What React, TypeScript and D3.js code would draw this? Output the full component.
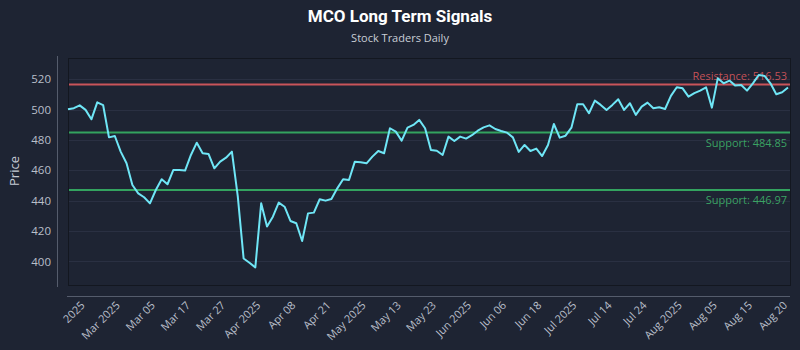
import { useEffect, useRef } from "react";
import * as d3 from "d3";

// closing prices, one per session
const PRICES = [
  500.2, 500.9, 502.8, 499.8, 493.6, 504.8, 503.0, 481.7, 482.6, 472.3,
  464.6, 450.3, 444.8, 442.2, 438.2, 447.0, 454.1, 450.8, 460.2, 460.2,
  459.8, 470.1, 478.2, 471.2, 470.8, 461.3, 465.7, 468.3, 472.3, 443.0,
  401.9, 399.1, 396.0, 438.2, 422.9, 429.4, 438.7, 436.0, 426.6, 425.1,
  413.4, 431.6, 432.1, 440.9, 440.0, 441.1, 448.1, 454.1, 453.6, 465.7,
  465.3, 464.6, 469.0, 472.7, 471.2, 487.7, 485.5, 479.5, 488.1, 489.9,
  493.2, 487.7, 473.4, 472.9, 470.1, 482.2, 479.3, 482.2, 480.9, 483.1,
  486.1, 488.3, 489.6, 487.2, 485.9, 484.8, 481.7, 472.1, 476.7, 472.7,
  474.3, 469.4, 476.7, 490.5, 481.5, 482.8, 488.1, 503.5, 503.5, 497.6,
  505.9, 503.1, 499.8, 503.1, 506.8, 499.8, 504.2, 496.5, 502.0, 504.6,
  500.9, 501.5, 500.4, 509.0, 514.7, 514.0, 508.5, 510.8, 512.5, 514.7,
  501.3, 520.6, 517.3, 519.1, 515.8, 516.2, 512.5, 517.3, 522.8, 522.2,
  517.3, 510.1, 511.4, 514.5,
];

const TICK_LABELS = [
  "2025", "Mar 2025", "Mar 05", "Mar 17", "Mar 27", "Apr 2025", "Apr 08",
  "Apr 21", "May 2025", "May 13", "May 23", "Jun 2025", "Jun 06", "Jun 18",
  "Jul 2025", "Jul 14", "Jul 24", "Aug 2025", "Aug 05", "Aug 15", "Aug 20",
];

const Y_TICKS = [400, 420, 440, 460, 480, 500, 520];

const RESISTANCE = [516.53];
const SUPPORTS = [484.85, 446.97];

const BG = "#1e2433";
const FONT = "'Open Sans', 'Noto Sans', sans-serif";

export default function App() {
  const ref = useRef<SVGSVGElement | null>(null);

  useEffect(() => {
    if (!ref.current) {
      return;
    }
    const svg = d3.select(ref.current);
    svg.selectAll("*").remove();

    const width = 800;
    const height = 350;
    const plot = { left: 68, right: 790, top: 58, bottom: 285 };

    const x = d3
      .scaleLinear()
      .domain([0, PRICES.length - 1])
      .range([plot.left, plot.right - 2]);

    const y = d3
      .scaleLinear()
      .domain([384.4, 534])
      .range([plot.bottom, plot.top]);

    svg.attr("viewBox", `0 0 ${width} ${height}`);

    svg
      .append("rect")
      .attr("width", width)
      .attr("height", height)
      .attr("fill", BG);

    // titles
    svg
      .append("text")
      .text("MCO Long Term Signals")
      .attr("x", width / 2)
      .attr("y", 22)
      .attr("text-anchor", "middle")
      .attr("font-family", "Roboto, sans-serif")
      .attr("font-weight", 700)
      .attr("font-size", 17)
      .attr("fill", "#ffffff");

    svg
      .append("text")
      .text("Stock Traders Daily")
      .attr("x", width / 2)
      .attr("y", 42)
      .attr("text-anchor", "middle")
      .attr("font-family", FONT)
      .attr("font-size", 11)
      .attr("fill", "#c9ced6");

    // axes frame
    svg
      .append("rect")
      .attr("x", plot.left + 0.5)
      .attr("y", plot.top + 0.5)
      .attr("width", plot.right - plot.left)
      .attr("height", plot.bottom - plot.top)
      .attr("fill", BG)
      .attr("stroke", "#131720")
      .attr("stroke-width", 1);

    // grid
    svg
      .append("g")
      .selectAll("line")
      .data(Y_TICKS)
      .enter()
      .append("line")
      .attr("x1", plot.left + 1)
      .attr("x2", plot.right)
      .attr("y1", (d) => Math.round(y(d)) + 0.5)
      .attr("y2", (d) => Math.round(y(d)) + 0.5)
      .attr("stroke", "#2a3042")
      .attr("stroke-width", 1);

    // offset spines
    svg
      .append("line")
      .attr("x1", 57.5)
      .attr("x2", 57.5)
      .attr("y1", 56)
      .attr("y2", 287)
      .attr("stroke", "#555c6c");

    svg
      .append("line")
      .attr("x1", 67)
      .attr("x2", 790)
      .attr("y1", 296.5)
      .attr("y2", 296.5)
      .attr("stroke", "#555c6c");

    svg
      .append("g")
      .attr("transform", "translate(57,0)")
      .call(d3.axisLeft(y).tickValues(Y_TICKS).tickSize(0).tickPadding(6))
      .call((g) => g.select(".domain").remove())
      .call((g) =>
        g
          .selectAll("text")
          .attr("font-family", FONT)
          .attr("font-size", 11.5)
          .attr("fill", "#b9bfca"),
      );

    svg
      .append("text")
      .text("Price")
      .attr("transform", "translate(19,171) rotate(-90)")
      .attr("text-anchor", "middle")
      .attr("font-family", FONT)
      .attr("font-size", 13)
      .attr("fill", "#c5cad3");

    // x tick labels, one every six sessions
    svg
      .append("g")
      .selectAll("text")
      .data(TICK_LABELS)
      .enter()
      .append("text")
      .text((d) => d)
      .attr(
        "transform",
        (_, i) => `translate(${x(3 + i * 6)},306) rotate(-45)`,
      )
      .attr("text-anchor", "end")
      .attr("font-family", FONT)
      .attr("font-size", 11)
      .attr("fill", "#b9bfca");

    // support / resistance levels
    const levels = [
      ...RESISTANCE.map((v) => ({ v, kind: "Resistance", color: "#c9545a", text: "#d9575c" })),
      ...SUPPORTS.map((v) => ({ v, kind: "Support", color: "#33a35f", text: "#3fb36a" })),
    ];

    const lv = svg.append("g");
    lv.selectAll("line")
      .data(levels)
      .enter()
      .append("line")
      .attr("x1", plot.left + 1)
      .attr("x2", plot.right)
      .attr("y1", (d) => y(d.v))
      .attr("y2", (d) => y(d.v))
      .attr("stroke", (d) => d.color)
      .attr("stroke-width", 2);

    // price line
    const line = d3
      .line<number>()
      .x((_, i) => x(i))
      .y((d) => y(d));

    svg
      .append("path")
      .datum(PRICES)
      .attr("d", line)
      .attr("fill", "none")
      .attr("stroke", "#6fe6f6")
      .attr("stroke-width", 2)
      .attr("stroke-linejoin", "round");

    lv.selectAll("text")
      .data(levels)
      .enter()
      .append("text")
      .text((d) => `${d.kind}: ${d.v.toFixed(2)}`)
      .attr("x", plot.right - 3)
      .attr("y", (d) => (d.kind === "Resistance" ? y(d.v) - 5 : y(d.v) + 14))
      .attr("text-anchor", "end")
      .attr("font-family", FONT)
      .attr("font-size", 11)
      .attr("fill", (d) => d.text)
      .attr("fill-opacity", 0.9);
  }, []);

  return (
    <div style={{ position: "fixed", left: 0, top: 0, width: 800, height: 350 }}>
      <svg ref={ref} width={800} height={350} style={{ display: "block" }} />
    </div>
  );
}
